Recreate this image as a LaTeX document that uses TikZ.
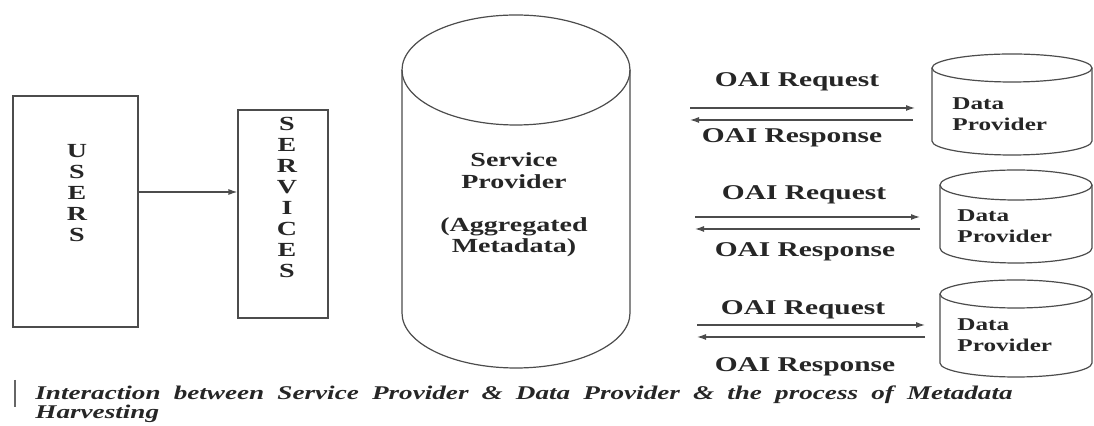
\documentclass[tikz,border=0pt]{standalone}
\usepackage{fontspec}
\setmainfont{Liberation Serif}
\usepackage{graphicx}
\usetikzlibrary{arrows.meta}

\newcommand{\wide}[1]{\scalebox{1.4}[1]{#1}}
% drum: centre x, top y, bottom y, x radius, y radius
\newcommand{\drum}[5]{%
  \draw[thinline] (#1-#4,#2) -- (#1-#4,#3)
    arc[start angle=180, end angle=0, x radius=#4, y radius=#5] -- (#1+#4,#2);
  \draw[thinline] (#1,#2) ellipse [x radius=#4, y radius=#5];}

\begin{document}
\begin{tikzpicture}
  [x=0.5pt, y=-0.5pt,
   thinline/.style={draw=black!70, line width=0.6pt},
   box/.style={thinline, rectangle, inner sep=0pt},
   flow/.style={thinline, -{Latex[length=4.5pt,width=3pt]}},
   letters/.style={font=\bfseries\fontsize{10}{10.5}\selectfont, text=black!85, inner sep=0pt},
   oai/.style={font=\bfseries\fontsize{10.5}{12}\selectfont, text=black!85, inner sep=0pt},
   dp/.style={font=\bfseries\fontsize{9}{10.5}\selectfont, text=black!85, align=left, inner sep=0pt, anchor=west}]
  \fill[white] (0,0) rectangle (1094,426);
  \useasboundingbox (0,0) rectangle (1094,426);

  % users and services
  \node[box, minimum width=62.5pt, minimum height=115.5pt] (users) at (75.5,211.5) {};
  \node[letters] (userstxt) at (77,195)
    {\wide{\begin{tabular}{@{}c@{}}U\\S\\E\\R\\S\end{tabular}}};
  \node[box, minimum width=45pt, minimum height=104pt] (services) at (283,214) {};
  \node[letters] (servicestxt) at (287,199.5)
    {\wide{\begin{tabular}{@{}c@{}}S\\E\\R\\V\\I\\C\\E\\S\end{tabular}}};
  \coordinate (ua) at (138,192);
  \draw[flow] (ua) -- (services.west |- ua);

  % service provider
  \drum{516}{70}{313}{114}{55}
  \node[letters, align=center, font=\bfseries\fontsize{10}{10.75}\selectfont] (sp) at (514,205)
    {\wide{Service}\\ \wide{Provider}\\[10.75pt] \wide{(Aggregated}\\ \wide{Metadata)}};

  % data providers
  \drum{1012}{68}{141}{80}{14}
  \drum{1016}{185}{248}{76}{15}
  \drum{1016}{294}{363}{76}{14}
  \node[dp] (dp1) at (952,114) {\wide{Data}\\ \wide{Provider}};
  \node[dp] (dp2) at (957,226) {\wide{Data}\\ \wide{Provider}};
  \node[dp] (dp3) at (957,335) {\wide{Data}\\ \wide{Provider}};

  % requests and responses
  \node[oai] (req1) at (797,82) {\wide{OAI Request}};
  \node[oai] (res1) at (792,138) {\wide{OAI Response}};
  \node[oai] (req2) at (804,195) {\wide{OAI Request}};
  \node[oai] (res2) at (805,252) {\wide{OAI Response}};
  \node[oai] (req3) at (803,310) {\wide{OAI Request}};
  \node[oai] (res3) at (805,367) {\wide{OAI Response}};

  \coordinate (go1) at (690,108);  \coordinate (to1) at (915,108);
  \coordinate (back1) at (913,120); \coordinate (in1) at (690,120);
  \coordinate (go2) at (695,217);  \coordinate (to2) at (920,217);
  \coordinate (back2) at (920,229); \coordinate (in2) at (695,229);
  \coordinate (go3) at (697,325);  \coordinate (to3) at (925,325);
  \coordinate (back3) at (925,337); \coordinate (in3) at (697,337);
  \draw[flow] (go1) -- (to1);
  \draw[flow] (back1) -- (in1);
  \draw[flow] (go2) -- (to2);
  \draw[flow] (back2) -- (in2);
  \draw[flow] (go3) -- (to3);
  \draw[flow] (back3) -- (in3);

  % caption
  \draw[draw=black!60, line width=1pt] (15,380) -- (15,407);
  \node[anchor=north west, inner sep=0pt, align=left, text=black!85,
        font=\bfseries\itshape\fontsize{9.7}{9.5}\selectfont] (caption) at (35,385)
    {\wide{\makebox[349pt][s]{Interaction between Service Provider \& Data Provider \& the process of Metadata}}\\
     \wide{Harvesting}};
\end{tikzpicture}
\end{document}
